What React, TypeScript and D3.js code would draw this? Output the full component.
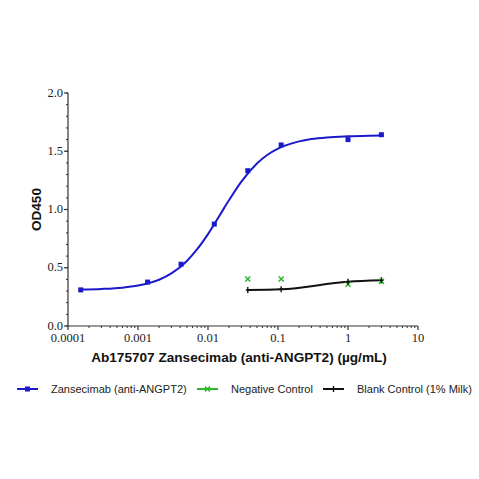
import * as d3 from 'd3'

// concentrations (µg/mL)
const antibodyConc = [0.000152, 0.00137, 0.00412, 0.0123, 0.037, 0.111, 1, 3]
const antibodyOD = [0.31, 0.377, 0.53, 0.875, 1.333, 1.554, 1.6, 1.642]

// fitted sigmoid for the antibody
const fitConc = [
  0.000152, 0.0003, 0.0006, 0.001, 0.002, 0.003, 0.005, 0.007, 0.01, 0.015, 0.02,
  0.03, 0.05, 0.07, 0.1, 0.2, 0.3, 0.5, 1, 2, 3,
]
const fitOD = [
  0.313, 0.318, 0.329, 0.347, 0.397, 0.451, 0.558, 0.659, 0.789, 0.959, 1.081,
  1.24, 1.395, 1.468, 1.523, 1.585, 1.605, 1.619, 1.628, 1.633, 1.635,
]

const controlConc = [0.037, 0.111, 1, 3]
const negativeOD = [0.403, 0.403, 0.358, 0.383]
const blankOD = [0.309, 0.315, 0.38, 0.392]

const xTicks = [0.0001, 0.001, 0.01, 0.1, 1, 10]
const yTicks = [0, 0.5, 1, 1.5, 2]

const SERIES = [
  { name: 'Zansecimab (anti-ANGPT2)', color: '#1a1acb', marker: 'square' },
  { name: 'Negative Control', color: '#2fb82f', marker: 'cross' },
  { name: 'Blank Control (1% Milk)', color: '#111111', marker: 'plus' },
]

const WIDTH = 479
const HEIGHT = 479
const PLOT = { left: 68, right: 418, top: 93, bottom: 326 }
const SANS = '"Liberation Sans", Arial, sans-serif'
const SERIF = '"Liberation Serif", "Times New Roman", serif'

function Marker({ kind, x, y, color }: { kind: string; x: number; y: number; color: string }) {
  if (kind === 'square') {
    return <rect x={x - 2.5} y={y - 2.5} width={5} height={5} fill={color} />
  }
  if (kind === 'cross') {
    return (
      <path
        d={`M${x - 2.5},${y - 2.5}L${x + 2.5},${y + 2.5}M${x - 2.5},${y + 2.5}L${x + 2.5},${y - 2.5}`}
        stroke={color}
        strokeWidth={1.6}
      />
    )
  }
  return (
    <path d={`M${x},${y - 3}V${y + 3}M${x - 2},${y}H${x + 2}`} stroke={color} strokeWidth={1.4} />
  )
}

export default function App() {
  const x = d3.scaleLog().domain([0.0001, 10]).range([PLOT.left, PLOT.right])
  const y = d3.scaleLinear().domain([0, 2]).range([PLOT.bottom, PLOT.top])

  const line = d3
    .line<[number, number]>()
    .x(d => x(d[0]))
    .y(d => y(d[1]))
    .curve(d3.curveMonotoneX)

  const antibody = antibodyConc.map((c, i) => [c, antibodyOD[i]] as [number, number])
  const fit = fitConc.map((c, i) => [c, fitOD[i]] as [number, number])
  const negative = controlConc.map((c, i) => [c, negativeOD[i]] as [number, number])
  const blank = controlConc.map((c, i) => [c, blankOD[i]] as [number, number])

  // minor ticks: 2..9 within each decade
  const xMinor: number[] = []
  for (let e = -4; e < 1; e++) {
    for (let m = 2; m <= 9; m++) xMinor.push(m * Math.pow(10, e))
  }
  const yMinor = d3.range(0, 2.0001, 0.1)

  const legendX = [17, 197, 323]

  return (
    <svg
      width={WIDTH}
      height={HEIGHT}
      style={{ position: 'absolute', left: 0, top: 0, background: '#fff' }}
    >
      {/* y axis */}
      <line x1={PLOT.left} x2={PLOT.left} y1={PLOT.top} y2={PLOT.bottom} stroke="#333" strokeWidth={1.2} />
      {yMinor.map(v => (
        <line key={`ym${v}`} x1={PLOT.left - 2} x2={PLOT.left} y1={y(v)} y2={y(v)} stroke="#333" />
      ))}
      {yTicks.map(v => (
        <g key={`y${v}`}>
          <line x1={PLOT.left - 4} x2={PLOT.left} y1={y(v)} y2={y(v)} stroke="#333" strokeWidth={1.2} />
          <text
            x={PLOT.left - 5}
            y={y(v)}
            dy="0.28em"
            textAnchor="end"
            fontFamily={SERIF}
            fontSize={12.5}
            fill="#222"
          >
            {v.toFixed(1)}
          </text>
        </g>
      ))}

      {/* x axis */}
      <line x1={PLOT.left} x2={PLOT.right} y1={PLOT.bottom} y2={PLOT.bottom} stroke="#333" strokeWidth={1.2} />
      {xMinor.map(v => (
        <line key={`xm${v}`} x1={x(v)} x2={x(v)} y1={PLOT.bottom} y2={PLOT.bottom + 2} stroke="#333" />
      ))}
      {xTicks.map(v => (
        <g key={`x${v}`}>
          <line x1={x(v)} x2={x(v)} y1={PLOT.bottom} y2={PLOT.bottom + 4} stroke="#333" strokeWidth={1.2} />
          <text
            x={x(v)}
            y={PLOT.bottom + 16}
            textAnchor="middle"
            fontFamily={SERIF}
            fontSize={12.5}
            fill="#222"
          >
            {String(v)}
          </text>
        </g>
      ))}

      {/* axis titles */}
      <text
        transform={`translate(41,${(PLOT.top + PLOT.bottom) / 2}) rotate(-90)`}
        textAnchor="middle"
        fontFamily={SANS}
        fontWeight="bold"
        fontSize={13.5}
        fill="#111"
      >
        OD450
      </text>
      <text
        x={239}
        y={362}
        textAnchor="middle"
        fontFamily={SANS}
        fontWeight="bold"
        fontSize={13.6}
        fill="#111"
      >
        Ab175707 Zansecimab (anti-ANGPT2) (µg/mL)
      </text>

      {/* curves */}
      <path d={line(fit) ?? ''} fill="none" stroke={SERIES[0].color} strokeWidth={2} />
      <path d={line(blank) ?? ''} fill="none" stroke={SERIES[2].color} strokeWidth={2} />

      {antibody.map((d, i) => (
        <Marker key={`a${i}`} kind="square" x={x(d[0])} y={y(d[1])} color={SERIES[0].color} />
      ))}
      {negative.map((d, i) => (
        <Marker key={`n${i}`} kind="cross" x={x(d[0])} y={y(d[1])} color={SERIES[1].color} />
      ))}
      {blank.map((d, i) => (
        <Marker key={`b${i}`} kind="plus" x={x(d[0])} y={y(d[1])} color={SERIES[2].color} />
      ))}

      {/* legend */}
      {SERIES.map((s, i) => (
        <g key={s.name} transform={`translate(${legendX[i]},389)`}>
          <line x1={0} x2={21} y1={0} y2={0} stroke={s.color} strokeWidth={2} />
          <Marker kind={s.marker} x={10.5} y={0} color={s.color} />
          <text x={34} y={0} dy="0.35em" fontFamily={SANS} fontSize={11} fill="#222">
            {s.name}
          </text>
        </g>
      ))}
    </svg>
  )
}
